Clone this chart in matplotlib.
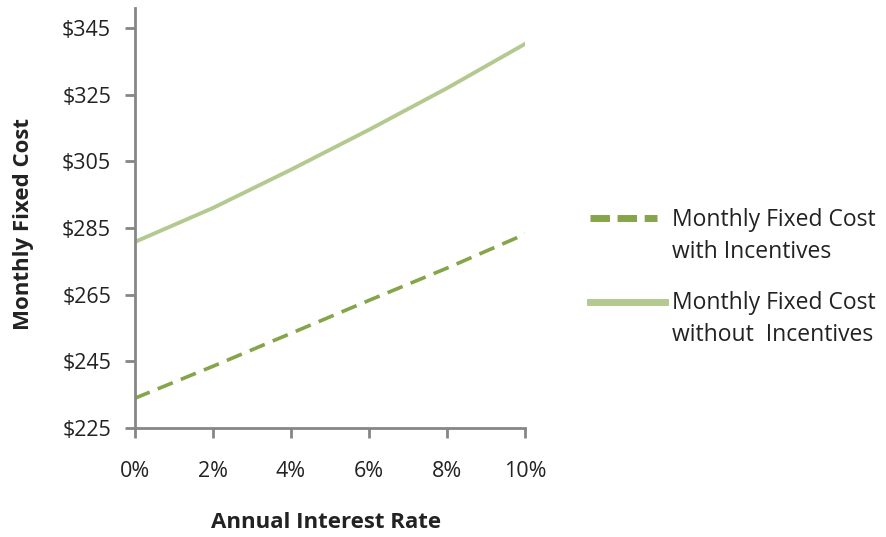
import matplotlib.pyplot as plt
import matplotlib.ticker as mticker
from matplotlib.lines import Line2D

plt.rcParams["font.family"] = ["Open Sans", "DejaVu Sans"]

rates = [0, 2, 4, 6, 8, 10]  # annual interest rate, %
cost_with = [233.9, 243.5, 253.4, 263.3, 273.0, 283.2]
cost_without = [280.8, 291.0, 302.5, 314.5, 327.0, 340.3]
labels = ["Monthly Fixed Cost\nwith Incentives", "Monthly Fixed Cost\nwithout  Incentives"]
y_ticks = [225, 245, 265, 285, 305, 325, 345]

c_dark = "#86a44a"
c_light = "#b4c990"
axis_grey = "#868686"
txt = "#222222"

fig = plt.figure(figsize=(8.86, 5.37), dpi=100)
ax = fig.add_axes([0.152, 0.203, 0.441, 0.782])

ax.plot(rates, cost_with, color=c_dark, lw=2.6, dashes=(4.5, 2.4))
ax.plot(rates, cost_without, color=c_light, lw=2.8)

ax.set_xlim(0, 10)
ax.set_ylim(225, 351)
ax.set_xticks(rates)
ax.set_yticks(y_ticks)
ax.xaxis.set_major_formatter(mticker.FuncFormatter(lambda v, p: f"{v:.0f}%"))
ax.yaxis.set_major_formatter(mticker.FuncFormatter(lambda v, p: f"${v:.0f}"))

for s in ["top", "right"]:
    ax.spines[s].set_visible(False)
for s in ["left", "bottom"]:
    ax.spines[s].set_color(axis_grey)
    ax.spines[s].set_linewidth(2)
ax.tick_params(axis="both", colors=axis_grey, width=2, length=7, labelsize=15.5,
               labelcolor=txt)
ax.tick_params(axis="x", pad=17)
ax.tick_params(axis="y", pad=10)

ax.set_xlabel("Annual Interest Rate", fontsize=16, fontweight="bold", color=txt,
              va="center")
ax.xaxis.set_label_coords(0.49, -0.226)
ax.set_ylabel("Monthly Fixed Cost", fontsize=16, fontweight="bold", color=txt,
              va="center")
ax.yaxis.set_label_coords(-0.285, 0.485)

# legend, drawn by hand so the key sits beside the first text line
W, H = 886, 537
keys = [
    Line2D([590 / W, 657 / W], [1 - 218 / H] * 2, color=c_dark, lw=5, dashes=(2.8, 1.1)),
    Line2D([590 / W, 665 / W], [1 - 302 / H] * 2, color=c_light, lw=5),
]
for k in keys:
    fig.add_artist(k)
for lab, y0 in zip(labels, [220, 303]):
    first, second = lab.split("\n")
    fig.text(672 / W, 1 - y0 / H, first, fontsize=16.5, va="center", color=txt)
    fig.text(672 / W, 1 - (y0 + 32) / H, second, fontsize=16.5, va="center", color=txt)

fig.savefig("out.png", dpi=100)
